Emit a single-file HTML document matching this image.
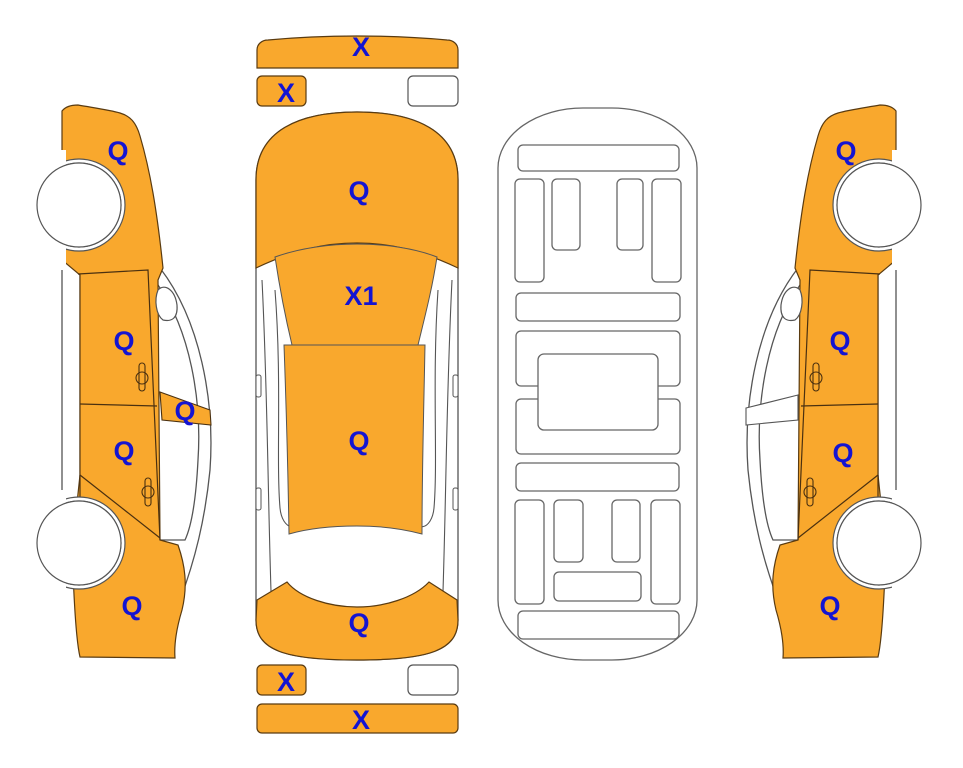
<!DOCTYPE html>
<html><head><style>
html,body{margin:0;padding:0;background:#fff;}
svg{display:block}
text{font-family:"Liberation Sans",Arial,sans-serif;font-weight:bold;font-size:27px;fill:#1414d2;text-anchor:middle;}
</style></head><body>
<svg width="963" height="768" viewBox="0 0 963 768" xmlns="http://www.w3.org/2000/svg">
<defs>
<g id="side">
  <!-- greenhouse lines -->
  <path d="M160,268 C200,320 215,400 210,470 C205,520 195,560 180,600" fill="none" stroke="#555" stroke-width="1.3"/>
  <path d="M158,285 C190,330 202,400 198,460 C196,500 192,525 185,540 L160,540" fill="none" stroke="#555" stroke-width="1.3"/>
  <!-- white sill strip -->
  <rect x="62" y="248" width="18" height="255" fill="#fff" stroke="#555" stroke-width="1.3"/>
  <!-- body -->
  <path d="M62,111 C66,106 72,105 78,105 C95,108 110,110 120,113 C130,116 136,122 140,136 C150,170 157,210 163,268 L158,280 L160,540 L178,545 C185,565 188,585 182,610 C176,630 174,645 175,658 L80,657 C76,640 74,600 72,550 L80,475 L80,275 L62,260 Z" fill="#f9a82d" stroke="#5a3b10" stroke-width="1.2"/>
  <path d="M78,274 L148,270 L160,540" fill="none" stroke="#4a3010" stroke-width="1.2"/>
  <path d="M80,404 L157,406" fill="none" stroke="#4a3010" stroke-width="1.2"/>
  <path d="M80,475 L160,538" fill="none" stroke="#4a3010" stroke-width="1.2"/>
  <path d="M80,475 L80,500" fill="none" stroke="#4a3010" stroke-width="1.2"/>
  <!-- handles -->
  <rect x="139" y="363" width="6" height="28" rx="3" fill="none" stroke="#4a3010" stroke-width="1.1"/>
  <circle cx="142" cy="378" r="6" fill="none" stroke="#4a3010" stroke-width="1.1"/>
  <rect x="145" y="478" width="6" height="28" rx="3" fill="none" stroke="#4a3010" stroke-width="1.1"/>
  <circle cx="148" cy="492" r="6" fill="none" stroke="#4a3010" stroke-width="1.1"/>
  <!-- mirror window -->
  <path d="M158,290 C165,283 175,290 177,305 C178,318 172,322 163,320 C156,315 154,300 158,290 Z" fill="#fff" stroke="#555" stroke-width="1.2"/>
  <!-- wheels -->
  <circle cx="79" cy="205" r="46" fill="#fff" stroke="#555" stroke-width="1.2"/>
  <circle cx="79" cy="205" r="42" fill="#fff" stroke="#555" stroke-width="1.2"/>
  <circle cx="79" cy="543" r="46" fill="#fff" stroke="#555" stroke-width="1.2"/>
  <circle cx="79" cy="543" r="42" fill="#fff" stroke="#555" stroke-width="1.2"/>
  <rect x="30" y="150" width="36" height="120" fill="#fff"/>
  <rect x="30" y="490" width="36" height="110" fill="#fff"/>
  <circle cx="79" cy="205" r="42" fill="#fff" stroke="#555" stroke-width="1.2"/>
  <circle cx="79" cy="543" r="42" fill="#fff" stroke="#555" stroke-width="1.2"/>
</g>
</defs>

<!-- left car -->
<use href="#side"/>
<path d="M160,392 L210,410 L211,425 L162,420 Z" fill="#f9a82d" stroke="#4a3010" stroke-width="1.1"/>
<!-- right car -->
<g transform="translate(958,0) scale(-1,1)">
  <use href="#side"/>
  <path d="M160,395 L212,408 L212,425 L160,420 Z" fill="#fff" stroke="#555" stroke-width="1.1"/>
</g>

<!-- top bars -->
<path d="M257,68 L257,50 C257,44 262,40 268,40 C300,37 330,36 357,36 C385,36 415,37 447,40 C453,40 458,44 458,50 L458,68 Z" fill="#f9a82d" stroke="#5a3b10" stroke-width="1.2"/>
<rect x="257" y="76" width="49" height="30" rx="5" fill="#f9a82d" stroke="#5a3b10" stroke-width="1.2"/>
<rect x="408" y="76" width="50" height="30" rx="5" fill="#fff" stroke="#555" stroke-width="1.2"/>
<rect x="257" y="665" width="49" height="30" rx="5" fill="#f9a82d" stroke="#5a3b10" stroke-width="1.2"/>
<rect x="408" y="665" width="50" height="30" rx="5" fill="#fff" stroke="#555" stroke-width="1.2"/>
<rect x="257" y="704" width="201" height="29" rx="5" fill="#f9a82d" stroke="#5a3b10" stroke-width="1.2"/>

<!-- center top view -->
<path d="M256,268 L256,180 C256,130 300,112 357,112 C414,112 458,130 458,180 L458,620 C458,650 430,660 357,660 C284,660 256,650 256,620 Z" fill="#fff" stroke="#555" stroke-width="1.3"/>
<path d="M262,280 C268,400 268,520 272,620 M452,280 C446,400 446,520 442,620" fill="none" stroke="#555" stroke-width="1.1"/>
<path d="M275,290 C282,380 276,460 280,508 C282,530 300,535 302,510 M438,290 C432,380 438,460 434,508 C432,530 414,535 412,510" fill="none" stroke="#555" stroke-width="1.1"/>
<path d="M256,268 L256,180 C256,130 300,112 357,112 C414,112 458,130 458,180 L458,268 C420,250 390,243 357,243 C324,243 294,250 256,268 Z" fill="#f9a82d" stroke="#5a3b10" stroke-width="1.2"/>
<path d="M275,257 C300,248 330,244 357,244 C384,244 414,248 437,257 C432,290 424,320 418,345 L292,345 C286,320 280,290 275,257 Z" fill="#f9a82d" stroke="#555" stroke-width="1"/>
<path d="M284,345 L425,345 C424,400 422,470 422,534 C400,528 380,526 357,526 C334,526 310,528 289,534 C288,470 286,400 284,345 Z" fill="#f9a82d" stroke="#555" stroke-width="1"/>
<path d="M257,600 L287,582 C300,598 330,607 357,607 C384,607 414,598 429,582 L457,600 L458,620 C458,650 430,660 357,660 C284,660 256,650 256,620 Z" fill="#f9a82d" stroke="#5a3b10" stroke-width="1.2"/>
<rect x="256" y="375" width="5" height="22" rx="2" fill="#fff" stroke="#555"/>
<rect x="453" y="375" width="5" height="22" rx="2" fill="#fff" stroke="#555"/>
<rect x="256" y="488" width="5" height="22" rx="2" fill="#fff" stroke="#555"/>
<rect x="453" y="488" width="5" height="22" rx="2" fill="#fff" stroke="#555"/>

<!-- underside -->
<g fill="#fff" stroke="#666" stroke-width="1.3">
<rect x="498" y="108" width="199" height="552" rx="85" ry="60"/>
<rect x="518" y="145" width="161" height="26" rx="5"/>
<rect x="515" y="179" width="29" height="103" rx="5"/>
<rect x="552" y="179" width="28" height="71" rx="5"/>
<rect x="617" y="179" width="26" height="71" rx="5"/>
<rect x="652" y="179" width="29" height="103" rx="5"/>
<rect x="516" y="293" width="164" height="28" rx="5"/>
<rect x="516" y="331" width="164" height="55" rx="5"/>
<rect x="516" y="399" width="164" height="55" rx="5"/>
<rect x="538" y="354" width="120" height="76" rx="6"/>
<rect x="516" y="463" width="163" height="28" rx="5"/>
<rect x="515" y="500" width="29" height="104" rx="5"/>
<rect x="554" y="500" width="29" height="62" rx="5"/>
<rect x="612" y="500" width="28" height="62" rx="5"/>
<rect x="651" y="500" width="29" height="104" rx="5"/>
<rect x="554" y="572" width="87" height="29" rx="5"/>
<rect x="518" y="611" width="161" height="28" rx="5"/>
</g>

<!-- labels -->
<text x="361" y="56">X</text>
<text x="286" y="102">X</text>
<text x="286" y="691">X</text>
<text x="361" y="729">X</text>
<text x="359" y="200">Q</text>
<text x="361" y="305">X1</text>
<text x="359" y="450">Q</text>
<text x="359" y="632">Q</text>
<text x="118" y="160">Q</text>
<text x="124" y="350">Q</text>
<text x="185" y="420">Q</text>
<text x="124" y="460">Q</text>
<text x="132" y="615">Q</text>
<text x="846" y="160">Q</text>
<text x="840" y="350">Q</text>
<text x="843" y="462">Q</text>
<text x="830" y="615">Q</text>
</svg>
</body></html>
